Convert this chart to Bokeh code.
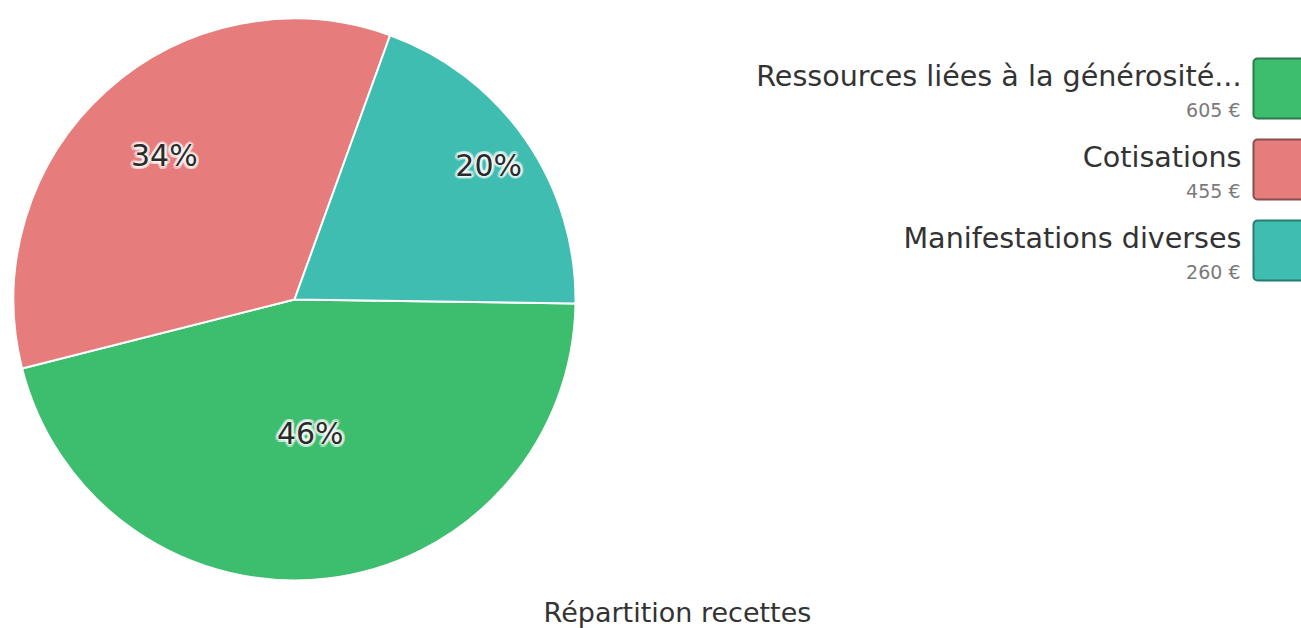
import numpy as np
from bokeh.plotting import figure
from bokeh.models import Range1d, ColumnDataSource
from bokeh.core.properties import value
from bokeh.embed import file_html
from bokeh.resources import INLINE

# ---- data ----
categories = ["Ressources liées à la générosité...", "Cotisations", "Manifestations diverses"]
amounts = [605, 455, 260]
amount_labels = ["605 €", "455 €", "260 €"]
colors = ["#3dbd6e", "#e67c7b", "#3fbdb0"]
border_colors = ["#2b7a4a", "#8a4c4c", "#2a7a70"]
title = "Répartition recettes"

# ---- layout / style ----
W, H = 1301, 628
FONT = "DejaVu Sans"
cx, cy, R = 294, H - 299, 281
start_deg = -0.8
label_frac = [0.48, 0.69, 0.84]

p = figure(width=W, height=H, output_backend="svg", toolbar_location=None,
           x_range=Range1d(0, W), y_range=Range1d(0, H), min_border=0)
p.axis.visible = False
p.grid.visible = False
p.outline_line_color = None
p.background_fill_color = "white"

total = float(sum(amounts))
fr = np.array(amounts) / total
ang = fr * 2 * np.pi
start = np.deg2rad(start_deg)
ends_cum = start - np.cumsum(ang)          # clockwise
starts_cum = np.concatenate([[start], ends_cum[:-1]])
mid = (starts_cum + ends_cum) / 2

pie = ColumnDataSource(dict(x=[cx] * 3, y=[cy] * 3, s=list(ends_cum), e=list(starts_cum), c=colors))
p.wedge(x="x", y="y", radius=R, start_angle="s", end_angle="e", fill_color="c",
        line_color="white", line_width=2, source=pie)

pct = [f"{round(100 * f)}%" for f in fr]
lx = [cx + R * k * np.cos(m) for k, m in zip(label_frac, mid)]
ly = [cy + R * k * np.sin(m) for k, m in zip(label_frac, mid)]
# soft white halo beneath (ring of faint white copies), dark text on top
halo = dict(x=[], y=[], t=[], xo=[], yo=[])
for a in np.linspace(0, 2 * np.pi, 12, endpoint=False):
    for k in range(3):
        halo["x"].append(lx[k]); halo["y"].append(ly[k]); halo["t"].append(pct[k])
        halo["xo"].append(3 * np.cos(a)); halo["yo"].append(3 * np.sin(a))
p.text(x="x", y="y", text="t", x_offset="xo", y_offset="yo", source=ColumnDataSource(halo),
       text_align="center", text_baseline="middle", text_font=value(FONT),
       text_font_size="30px", text_color="white", text_alpha=0.35)
p.text(x=lx, y=ly, text=pct, text_align="center", text_baseline="middle",
       text_font=value(FONT), text_font_size="30px", text_color="white",
       text_outline_color="white", text_alpha=0.9)
p.text(x=lx, y=ly, text=pct, text_align="center", text_baseline="middle",
       text_font=value(FONT), text_font_size="30px", text_color="#2b2b2b")

# ---- legend ----
pitch = 81
top0 = 58
box_h = 60
box_left = 1253
rows = np.arange(len(categories))
box_top = [H - (top0 + i * pitch) for i in rows]
p.quad(left=box_left, right=box_left + 62, top=box_top, bottom=[t - box_h for t in box_top],
       fill_color=colors, line_color=border_colors, line_width=2, border_radius=4)
p.text(x=[1241] * 3, y=[H - (75 + i * pitch) for i in rows], text=categories,
       text_align="right", text_baseline="alphabetic", text_font=value(FONT),
       text_font_size="28.6px", text_color="#333333")
p.text(x=[1240] * 3, y=[H - (109 + i * pitch) for i in rows], text=amount_labels,
       text_align="right", text_baseline="alphabetic", text_font=value(FONT),
       text_font_size="19px", text_color="#7a7a7a")

# ---- title ----
p.text(x=[677], y=[H - 612], text=[title], text_align="center", text_baseline="middle",
       text_font=value(FONT), text_font_size="27px", text_color="#333333")

open("out.html", "w").write(file_html(p, INLINE))
